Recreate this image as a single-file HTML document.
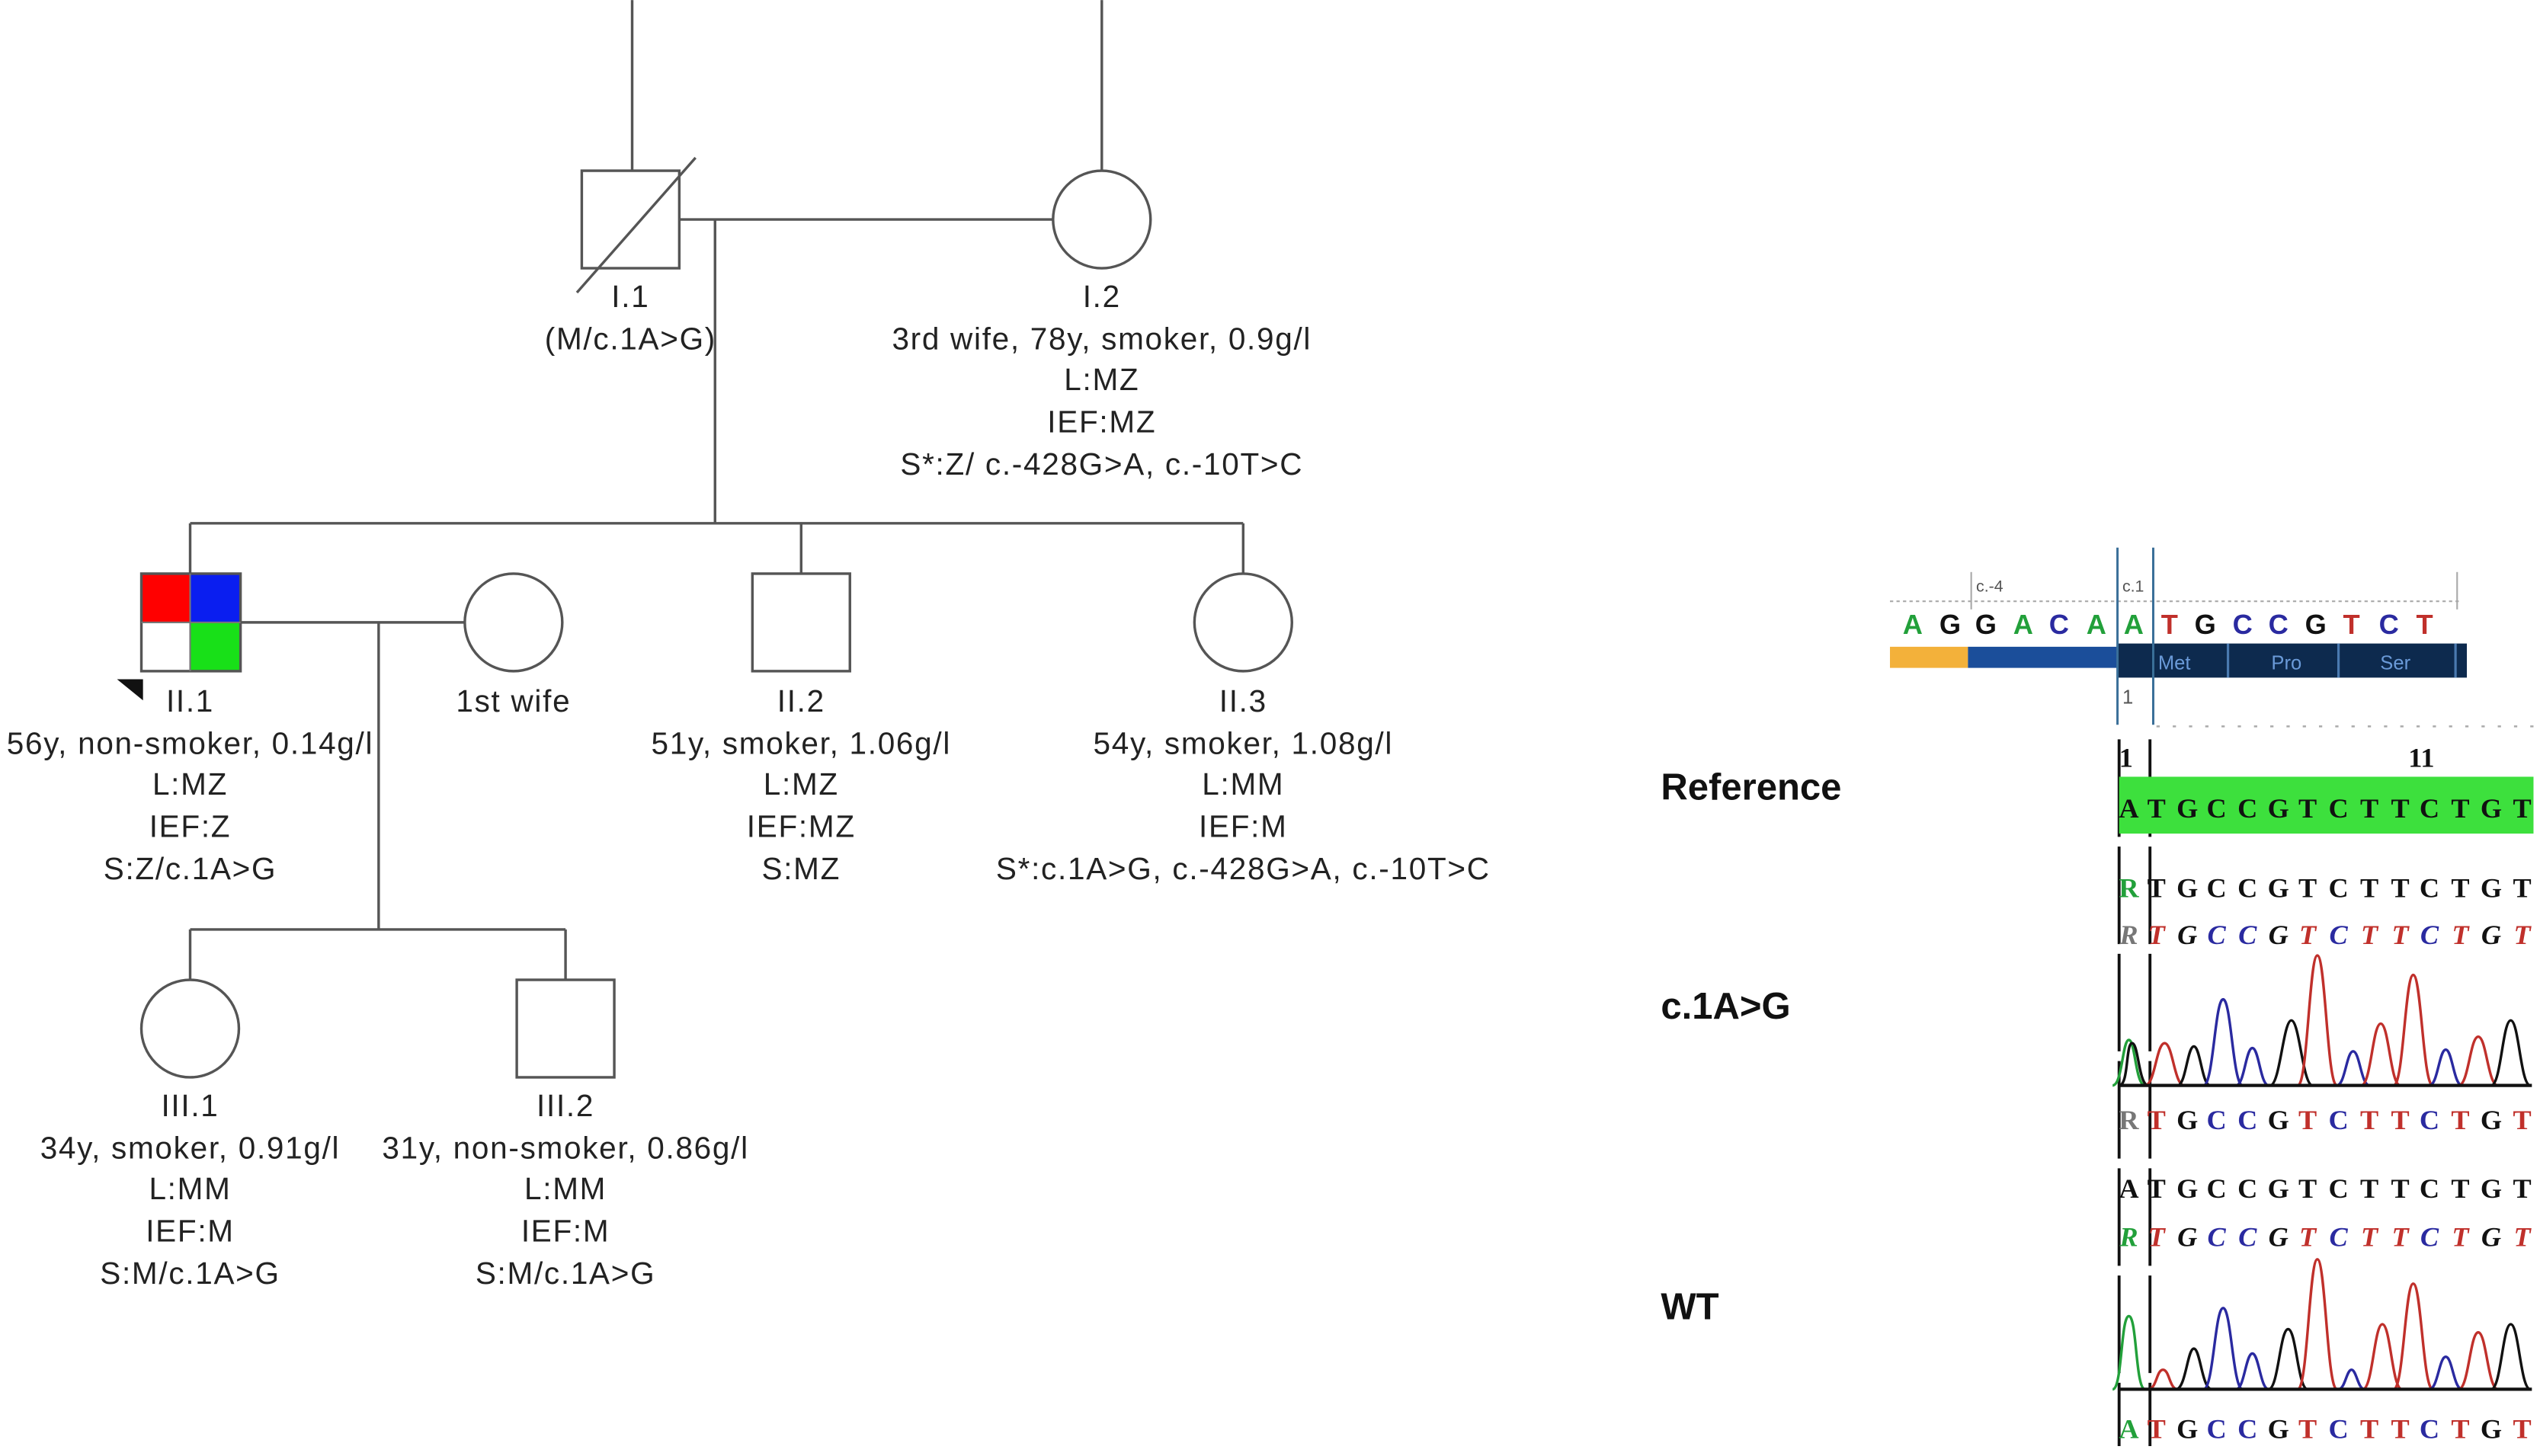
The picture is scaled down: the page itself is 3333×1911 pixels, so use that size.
<!DOCTYPE html>
<html><head><meta charset="utf-8"><style>
html,body{margin:0;padding:0;background:#fff;}
svg{display:block;}
.t{font-family:"Liberation Sans",Arial,sans-serif;font-size:19px;letter-spacing:0.8px;fill:#222;text-anchor:middle;}
.lb{font-family:"Liberation Sans",Arial,sans-serif;font-size:23px;font-weight:bold;fill:#111;}
.sq{font-family:"Liberation Serif",serif;font-size:17px;font-weight:bold;}
.it{font-family:"Liberation Serif",serif;font-size:17px;font-weight:bold;font-style:italic;}
.top{font-family:"Liberation Sans",Arial,sans-serif;font-size:17px;font-weight:bold;text-anchor:middle;}
.r{fill:#c0302b}.k{fill:#111}.b{fill:#2a2aa0}.g{fill:#22a03a}
</style></head><body>
<svg width="3333" height="1911" viewBox="0 0 1563 896" xmlns="http://www.w3.org/2000/svg">
<g stroke="#555" stroke-width="1.6" fill="none">
<line x1="389" y1="0" x2="389" y2="105"/>
<rect x="358" y="105" width="60" height="60" fill="#fff"/>
<line x1="355" y1="180" x2="428" y2="97"/>
<line x1="678" y1="0" x2="678" y2="105"/>
<circle cx="678" cy="135" r="30" fill="#fff"/>
<line x1="418" y1="135" x2="648" y2="135"/>
<line x1="440" y1="135" x2="440" y2="322"/>
<line x1="117" y1="322" x2="765" y2="322"/>
<line x1="117" y1="322" x2="117" y2="353"/>
<line x1="493" y1="322" x2="493" y2="353"/>
<line x1="765" y1="322" x2="765" y2="353"/>
<line x1="148" y1="383" x2="286" y2="383"/>
<circle cx="316" cy="383" r="30" fill="#fff"/>
<line x1="233" y1="383" x2="233" y2="572"/>
<line x1="117" y1="572" x2="348" y2="572"/>
<line x1="117" y1="572" x2="117" y2="603"/>
<line x1="348" y1="572" x2="348" y2="603"/>
<rect x="463" y="353" width="60" height="60" fill="#fff"/>
<circle cx="765" cy="383" r="30" fill="#fff"/>
<circle cx="117" cy="633" r="30" fill="#fff"/>
<rect x="318" y="603" width="60" height="60" fill="#fff"/>
</g>
<rect x="87" y="353" width="30" height="30" fill="#f00"/>
<rect x="117" y="353" width="31" height="30" fill="#0a1ef0"/>
<rect x="117" y="383" width="31" height="30" fill="#18e018"/>
<rect x="87" y="353" width="61" height="60" fill="none" stroke="#555" stroke-width="1.6"/>
<line x1="117" y1="353" x2="117" y2="413" stroke="#777" stroke-width="1"/>
<line x1="87" y1="383" x2="148" y2="383" stroke="#777" stroke-width="1"/>
<polygon points="72,418 88,418 88,431" fill="#111"/>

<text class="t" x="388" y="189">I.1</text>
<text class="t" x="388" y="215">(M/c.1A&gt;G)</text>
<text class="t" x="678" y="189">I.2</text>
<text class="t" x="678" y="215">3rd wife, 78y, smoker, 0.9g/l</text>
<text class="t" x="678" y="240">L:MZ</text>
<text class="t" x="678" y="266">IEF:MZ</text>
<text class="t" x="678" y="292">S*:Z/ c.-428G&gt;A, c.-10T&gt;C</text>

<text class="t" x="117" y="438">II.1</text>
<text class="t" x="117" y="464">56y, non-smoker, 0.14g/l</text>
<text class="t" x="117" y="489">L:MZ</text>
<text class="t" x="117" y="515">IEF:Z</text>
<text class="t" x="117" y="541">S:Z/c.1A&gt;G</text>
<text class="t" x="316" y="438">1st wife</text>
<text class="t" x="493" y="438">II.2</text>
<text class="t" x="493" y="464">51y, smoker, 1.06g/l</text>
<text class="t" x="493" y="489">L:MZ</text>
<text class="t" x="493" y="515">IEF:MZ</text>
<text class="t" x="493" y="541">S:MZ</text>
<text class="t" x="765" y="438">II.3</text>
<text class="t" x="765" y="464">54y, smoker, 1.08g/l</text>
<text class="t" x="765" y="489">L:MM</text>
<text class="t" x="765" y="515">IEF:M</text>
<text class="t" x="765" y="541">S*:c.1A&gt;G, c.-428G&gt;A, c.-10T&gt;C</text>

<text class="t" x="117" y="687">III.1</text>
<text class="t" x="117" y="713">34y, smoker, 0.91g/l</text>
<text class="t" x="117" y="738">L:MM</text>
<text class="t" x="117" y="764">IEF:M</text>
<text class="t" x="117" y="790">S:M/c.1A&gt;G</text>
<text class="t" x="348" y="687">III.2</text>
<text class="t" x="348" y="713">31y, non-smoker, 0.86g/l</text>
<text class="t" x="348" y="738">L:MM</text>
<text class="t" x="348" y="764">IEF:M</text>
<text class="t" x="348" y="790">S:M/c.1A&gt;G</text>

<line x1="1163" y1="370" x2="1515" y2="370" stroke="#aaa" stroke-width="1" stroke-dasharray="2,2"/>
<line x1="1213" y1="352" x2="1213" y2="375" stroke="#aaa" stroke-width="1"/>
<line x1="1512" y1="352" x2="1512" y2="375" stroke="#aaa" stroke-width="1"/>
<text x="1216" y="364" font-family="Liberation Sans" font-size="10" fill="#555">c.-4</text>
<text x="1306" y="364" font-family="Liberation Sans" font-size="10" fill="#555">c.1</text>
<g class="top">
<text x="1177" y="390" class="g">A</text><text x="1200" y="390" class="k">G</text><text x="1222" y="390" class="k">G</text><text x="1245" y="390" class="g">A</text><text x="1267" y="390" class="b">C</text><text x="1290" y="390" class="g">A</text><text x="1313" y="390" class="g">A</text><text x="1335" y="390" class="r">T</text><text x="1357" y="390" class="k">G</text><text x="1380" y="390" class="b">C</text><text x="1402" y="390" class="b">C</text><text x="1425" y="390" class="k">G</text><text x="1447" y="390" class="r">T</text><text x="1470" y="390" class="b">C</text><text x="1492" y="390" class="r">T</text>
</g>
<rect x="1163" y="398" width="48" height="13" fill="#f3b13a"/>
<rect x="1211" y="398" width="93" height="13" fill="#1b4e9a"/>
<rect x="1303" y="396" width="215" height="21" fill="#0d2a4e"/>
<line x1="1371" y1="396" x2="1371" y2="417" stroke="#4a7ab0" stroke-width="1.5"/>
<line x1="1439" y1="396" x2="1439" y2="417" stroke="#4a7ab0" stroke-width="1.5"/>
<line x1="1511" y1="396" x2="1511" y2="417" stroke="#4a7ab0" stroke-width="1.5"/>
<g font-family="Liberation Sans" font-size="12" fill="#6a9ad8" text-anchor="middle">
<text x="1338" y="412">Met</text><text x="1407" y="412">Pro</text><text x="1474" y="412">Ser</text></g>
<line x1="1303" y1="337" x2="1303" y2="446" stroke="#3a6f98" stroke-width="1.4"/>
<line x1="1325" y1="337" x2="1325" y2="446" stroke="#3a6f98" stroke-width="1.4"/>
<text x="1306" y="433" font-family="Liberation Sans" font-size="12" fill="#555">1</text>
<line x1="1327" y1="447" x2="1560" y2="447" stroke="#aaa" stroke-width="1.2" stroke-dasharray="2,8"/>
<line x1="1304" y1="455" x2="1304" y2="890" stroke="#111" stroke-width="1.8" stroke-dasharray="60,6"/>
<line x1="1323" y1="455" x2="1323" y2="890" stroke="#111" stroke-width="1.8" stroke-dasharray="60,6"/>
<text class="sq k" x="1304" y="472">1</text>
<text class="sq k" x="1482" y="472">11</text>

<text class="lb" x="1022" y="492">Reference</text>
<text class="lb" x="1022" y="627">c.1A&gt;G</text>
<text class="lb" x="1022" y="812">WT</text>

<rect x="1304" y="478" width="255" height="35" fill="#3de03d"/>
<g class="sq k" text-anchor="middle"><text x="1310 1327 1346 1364 1383 1402 1420 1439 1458 1477 1495 1514 1533 1552" y="503">ATGCCGTCTTCTGT</text></g>

<g class="sq" text-anchor="middle">
<text x="1310" y="552" class="g">R</text>
<text x="1327 1346 1364 1383 1402 1420 1439 1458 1477 1495 1514 1533 1552" y="552" class="k">TGCCGTCTTCTGT</text>
</g>
<g class="it" text-anchor="middle">
<text x="1310" y="581" fill="#777">R</text>
<text y="581"><tspan x="1327" class="r">T</tspan><tspan x="1346" class="k">G</tspan><tspan x="1364" class="b">C</tspan><tspan x="1383" class="b">C</tspan><tspan x="1402" class="k">G</tspan><tspan x="1420" class="r">T</tspan><tspan x="1439" class="b">C</tspan><tspan x="1458" class="r">T</tspan><tspan x="1477" class="r">T</tspan><tspan x="1495" class="b">C</tspan><tspan x="1514" class="r">T</tspan><tspan x="1533" class="k">G</tspan><tspan x="1552" class="r">T</tspan></text>
</g>
<g fill="none" stroke-width="1.6">
<path d="M1300,668 C1306,668 1306,640 1310,640 C1314,640 1314,668 1320,668" stroke="#22a03a"/>
<path d="M1304,668 C1310,668 1308,642 1312,642 C1316,642 1316,668 1322,668" stroke="#111"/>
<path d="M1320,668 C1326,668 1327,642 1332,642 C1337,642 1338,668 1344,668" stroke="#c0302b"/>
<path d="M1340,668 C1345,668 1346,644 1350,644 C1354,644 1355,668 1360,668" stroke="#111"/>
<path d="M1356,668 C1362,668 1363,615 1368,615 C1373,615 1374,668 1380,668" stroke="#2a2aa0"/>
<path d="M1376,668 C1381,668 1382,645 1386,645 C1390,645 1391,668 1396,668" stroke="#2a2aa0"/>
<path d="M1397,668 C1403,668 1405,628 1410,628 C1415,628 1417,668 1423,668" stroke="#111"/>
<path d="M1414,668 C1420,668 1421,588 1426,588 C1431,588 1432,668 1438,668" stroke="#c0302b"/>
<path d="M1438,668 C1443,668 1444,647 1448,647 C1452,647 1453,668 1458,668" stroke="#2a2aa0"/>
<path d="M1453,668 C1459,668 1460,630 1465,630 C1470,630 1471,668 1477,668" stroke="#c0302b"/>
<path d="M1473,668 C1479,668 1480,600 1485,600 C1490,600 1491,668 1497,668" stroke="#c0302b"/>
<path d="M1495,668 C1500,668 1501,646 1505,646 C1509,646 1510,668 1515,668" stroke="#2a2aa0"/>
<path d="M1513,668 C1519,668 1520,638 1525,638 C1530,638 1531,668 1537,668" stroke="#c0302b"/>
<path d="M1533,668 C1539,668 1540,628 1545,628 C1550,628 1551,668 1557,668" stroke="#111"/>
</g>
<line x1="1304" y1="668" x2="1558" y2="668" stroke="#111" stroke-width="2"/>
<g class="sq" text-anchor="middle">
<text x="1310" y="695" fill="#777">R</text>
<text y="695"><tspan x="1327" class="r">T</tspan><tspan x="1346" class="k">G</tspan><tspan x="1364" class="b">C</tspan><tspan x="1383" class="b">C</tspan><tspan x="1402" class="k">G</tspan><tspan x="1420" class="r">T</tspan><tspan x="1439" class="b">C</tspan><tspan x="1458" class="r">T</tspan><tspan x="1477" class="r">T</tspan><tspan x="1495" class="b">C</tspan><tspan x="1514" class="r">T</tspan><tspan x="1533" class="k">G</tspan><tspan x="1552" class="r">T</tspan></text>
<text x="1310 1327 1346 1364 1383 1402 1420 1439 1458 1477 1495 1514 1533 1552" y="737" class="k">ATGCCGTCTTCTGT</text>
</g>
<g class="it" text-anchor="middle">
<text x="1310" y="767" class="g">R</text>
<text y="767"><tspan x="1327" class="r">T</tspan><tspan x="1346" class="k">G</tspan><tspan x="1364" class="b">C</tspan><tspan x="1383" class="b">C</tspan><tspan x="1402" class="k">G</tspan><tspan x="1420" class="r">T</tspan><tspan x="1439" class="b">C</tspan><tspan x="1458" class="r">T</tspan><tspan x="1477" class="r">T</tspan><tspan x="1495" class="b">C</tspan><tspan x="1514" class="r">T</tspan><tspan x="1533" class="k">G</tspan><tspan x="1552" class="r">T</tspan></text>
</g>
<g fill="none" stroke-width="1.6">
<path d="M1300,855 C1306,855 1305,810 1310,810 C1315,810 1314,855 1320,855" stroke="#22a03a"/>
<path d="M1322,855 C1327,855 1327,843 1331,843 C1335,843 1335,855 1340,855" stroke="#c0302b"/>
<path d="M1339,855 C1345,855 1346,830 1350,830 C1354,830 1355,855 1361,855" stroke="#111"/>
<path d="M1356,855 C1362,855 1363,805 1368,805 C1373,805 1374,855 1380,855" stroke="#2a2aa0"/>
<path d="M1376,855 C1381,855 1382,833 1386,833 C1390,833 1391,855 1396,855" stroke="#2a2aa0"/>
<path d="M1396,855 C1402,855 1403,818 1408,818 C1413,818 1414,855 1420,855" stroke="#111"/>
<path d="M1414,855 C1420,855 1421,775 1426,775 C1431,775 1432,855 1438,855" stroke="#c0302b"/>
<path d="M1439,855 C1443,855 1444,843 1447,843 C1450,843 1451,855 1455,855" stroke="#2a2aa0"/>
<path d="M1454,855 C1460,855 1461,815 1466,815 C1471,815 1472,855 1478,855" stroke="#c0302b"/>
<path d="M1473,855 C1479,855 1480,790 1485,790 C1490,790 1491,855 1497,855" stroke="#c0302b"/>
<path d="M1495,855 C1500,855 1501,835 1505,835 C1509,835 1510,855 1515,855" stroke="#2a2aa0"/>
<path d="M1513,855 C1519,855 1520,820 1525,820 C1530,820 1531,855 1537,855" stroke="#c0302b"/>
<path d="M1533,855 C1539,855 1540,815 1545,815 C1550,815 1551,855 1557,855" stroke="#111"/>
</g>
<line x1="1304" y1="855" x2="1558" y2="855" stroke="#111" stroke-width="2"/>
<g class="sq" text-anchor="middle">
<text x="1310" y="885" class="g">A</text>
<text y="885"><tspan x="1327" class="r">T</tspan><tspan x="1346" class="k">G</tspan><tspan x="1364" class="b">C</tspan><tspan x="1383" class="b">C</tspan><tspan x="1402" class="k">G</tspan><tspan x="1420" class="r">T</tspan><tspan x="1439" class="b">C</tspan><tspan x="1458" class="r">T</tspan><tspan x="1477" class="r">T</tspan><tspan x="1495" class="b">C</tspan><tspan x="1514" class="r">T</tspan><tspan x="1533" class="k">G</tspan><tspan x="1552" class="r">T</tspan></text>
</g>
</svg>
</body></html>
